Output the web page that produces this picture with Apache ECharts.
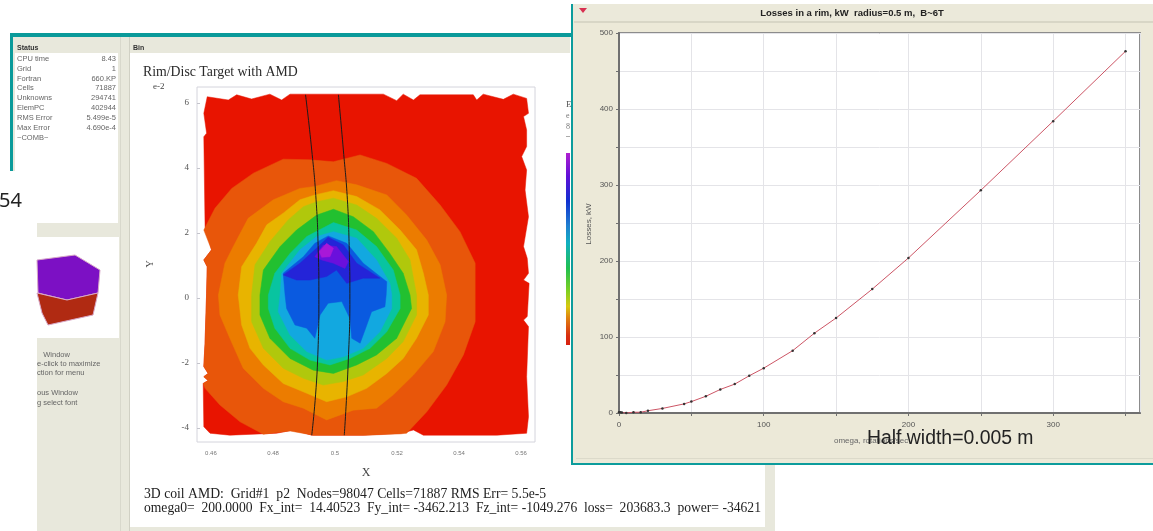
<!DOCTYPE html>
<html><head><meta charset="utf-8">
<style>
html,body{margin:0;padding:0;background:#fff;overflow:hidden}
#main,#top{position:absolute;left:0;top:0;width:1153px;height:531px}
#main{filter:blur(0.5px)}
#top{pointer-events:none}
</style>
<script src="https://cdn.jsdelivr.net/npm/echarts@6/dist/echarts.min.js"></script>
</head><body>
<div id="main"></div><div id="top"></div>
<script>
// ---- Losses curve ----
const omegaValues=[0,1,2,5,10,15,20,30,45,50,60,70,80,90,100,120,135,150,175,200,250,300,350];
const lossValues=[1,1,0.5,0,1,1,3,6,12,15,22,31,38,49,59,82,105,125,163,204,293,384,476];
const lossTicks=[0,100,200,300,400,500];
const omegaTicks=[0,100,200,300];
// ---- Contour plot, x in m, y in 1e-2 m ----
const xTickValues=[0.46,0.48,0.5,0.52,0.54,0.56];
const yTickValues=[-4,-2,0,2,4,6];
const fieldEdge=[[.4588,6.19],[.4656,6.09],[.4683,6.25],[.4731,6.12],[.4790,6.27],[.4828,6.09],[.4855,6.27],[.5156,6.27],[.5199,6.07],[.5220,6.27],[.5253,6.09],[.5274,6.25],[.5446,6.25],[.5457,6.09],[.5478,6.27],[.5543,6.11],[.5575,6.27],[.5618,6.14],[.5624,5.68],[.5608,5.58],[.5618,5.17],[.5618,4.66],[.5602,4.35],[.5618,3.94],[.5613,3.32],[.5624,2.50],[.5608,1.58],[.5620,1.22],[.5624,.76],[.5608,.55],[.5626,.45],[.5620,-.57],[.5608,-.68],[.5624,-.88],[.5618,-2.42],[.5624,-3.65],[.5618,-4.16],[.5522,-4.22],[.5285,-4.22],[.5253,-4.06],[.5215,-4.16],[.5091,-4.22],[.4925,-4.22],[.4866,-4.06],[.4812,-4.16],[.4661,-4.22],[.4597,-4.16],[.4577,-3.96],[.4575,-2.63],[.4591,-2.54],[.4577,-2.42],[.4591,-2.32],[.4577,-2.11],[.4581,-1.39],[.4586,.14],[.4588,.96],[.4577,1.17],[.4602,1.48],[.4581,2.19],[.4577,4.96],[.4586,5.07],[.4577,5.68]];
const band1=[[.4577,2.09],[.4613,2.76],[.4667,3.37],[.4737,3.84],[.4833,4.27],[.4919,4.25],[.4995,4.19],[.5081,4.40],[.5167,4.14],[.5263,3.68],[.5339,2.86],[.5403,2.04],[.5452,1.07],[.5452,.09],[.5452,-.73],[.5414,-1.75],[.5360,-2.68],[.5296,-3.50],[.5231,-4.16],[.5210,-4.18],[.5102,-4.22],[.4930,-4.22],[.4855,-4.09],[.4769,-4.19],[.4694,-3.81],[.4629,-3.29],[.4581,-2.78],[.4575,-2.63],[.4591,-2.54],[.4577,-2.42],[.4591,-2.32],[.4577,-2.11],[.4581,-1.39],[.4586,.14],[.4588,.96],[.4577,1.17],[.4602,1.48]];
const band2=[[.4624,.09],[.4645,1.07],[.4672,1.58],[.4720,2.45],[.4801,3.02],[.4887,3.37],[.4935,3.43],[.5005,3.61],[.5070,3.48],[.5167,3.17],[.5231,2.55],[.5296,1.78],[.5339,1.02],[.5360,.09],[.5355,-.73],[.5317,-1.65],[.5253,-2.37],[.5188,-2.98],[.5134,-3.39],[.5059,-3.45],[.4973,-3.75],[.4898,-3.39],[.4833,-3.19],[.4769,-2.78],[.4704,-2.16],[.4661,-1.24],[.4629,-.52]];
const band3=[[.4688,.09],[.4699,.96],[.4747,1.68],[.4780,2.25],[.4833,2.61],[.4887,3.02],[.4935,3.17],[.4995,3.30],[.5070,3.12],[.5145,2.71],[.5210,2.09],[.5263,1.48],[.5285,.76],[.5301,.09],[.5301,-.52],[.5263,-1.24],[.5220,-1.86],[.5167,-2.32],[.5102,-2.78],[.5038,-3.04],[.4973,-3.19],[.4909,-2.93],[.4833,-2.63],[.4769,-2.06],[.4726,-1.55],[.4699,-.83]];
const band4=[[.4731,.09],[.4742,1.02],[.4790,1.73],[.4849,2.40],[.4898,2.81],[.4941,2.96],[.4995,3.07],[.5070,2.86],[.5134,2.45],[.5199,1.84],[.5242,1.17],[.5263,.09],[.5263,-.52],[.5220,-1.34],[.5167,-1.86],[.5091,-2.37],[.5027,-2.57],[.4962,-2.68],[.4898,-2.47],[.4833,-2.16],[.4769,-1.55],[.4731,-.73]];
const band5=[[.4758,.09],[.4769,.86],[.4823,1.58],[.4876,2.09],[.4941,2.55],[.4995,2.73],[.5059,2.50],[.5124,2.04],[.5177,1.37],[.5220,.76],[.5242,.09],[.5247,-.32],[.5199,-1.24],[.5134,-1.75],[.5070,-2.06],[.4995,-2.32],[.4930,-2.22],[.4855,-1.86],[.4790,-1.24],[.4758,-.52]];
const band6=[[.4785,.09],[.4806,.76],[.4855,1.37],[.4909,1.89],[.4995,2.32],[.5070,2.09],[.5134,1.58],[.5188,.86],[.5210,.09],[.5210,-.32],[.5167,-1.04],[.5113,-1.55],[.5048,-1.86],[.4984,-2.06],[.4919,-1.91],[.4855,-1.55],[.4806,-.93],[.4785,-.32]];
const band7=[[.4823,.09],[.4828,.76],[.4887,1.48],[.4941,1.89],[.4995,2.04],[.5070,1.84],[.5134,1.17],[.5177,.45],[.5183,.09],[.5183,-.32],[.5145,-1.04],[.5091,-1.55],[.5027,-1.81],[.4973,-1.91],[.4909,-1.65],[.4855,-1.14],[.4817,-.42]];
const band8=[[.4833,.76],[.4898,1.27],[.4935,1.68],[.4978,1.91],[.5038,1.68],[.5091,1.07],[.5167,.50],[.5165,.09],[.5161,-.27],[.5118,-.42],[.5097,-.98],[.5081,-1.39],[.5054,-1.24],[.5048,-.63],[.5022,-.11],[.4978,-.16],[.4952,-.52],[.4935,-1.24],[.4909,-.93],[.4871,-.83],[.4844,-.32],[.4839,.09]];
const band9=[[.4833,.71],[.4887,1.07],[.4935,1.48],[.4978,1.87],[.5027,1.63],[.5070,1.07],[.5145,.61],[.5091,.61],[.5038,.45],[.5005,.86],[.4973,.66],[.4919,.55],[.4876,.55]];
const band10=[[.4935,1.27],[.4962,1.63],[.5005,1.58],[.5043,1.12],[.5032,.91],[.4995,1.07],[.4957,1.17]];
const band11=[[.4949,1.43],[.4973,1.68],[.4995,1.53],[.4984,1.27],[.4957,1.25]];
const contourBands=[fieldEdge,band1,band2,band3,band4,band5,band6,band7,band8,band9,band10,band11];
const bandColors=['#e81400','#e8560a','#ec7c00','#e8b400','#b0c80c','#22c030','#08c4a0','#12a8e0','#0a5ae0','#2424d8','#6a10dc','#a818d8'];
const rimLeft=[[.4905,6.25],[.4925,4.55],[.4939,3.02],[.4946,1.48],[.4948,.14],[.4944,-1.91],[.4925,-4.22]];
const rimRight=[[.5011,6.25],[.5027,4.55],[.5040,3.02],[.5046,1.48],[.5048,.14],[.5043,-1.91],[.5030,-4.22]];
// ---- Thumbnail cube ----
const cubeTop=[[0,23],[38,18],[63,33],[61,56],[30,63],[1,56]];
const cubeSide=[[0,56],[30,63],[61,56],[56,78],[11,88],[5,76]];
const cubeFaces=[cubeTop,cubeSide];
const cubeColors=['#7c10c4','#b02a12'];
// ---- Status panel ----
const statusLabels=['CPU time','Grid','Fortran','Cells','Unknowns','ElemPC','RMS Error','Max Error','~COMB~'];
const statusValues=['8.43','1','660.KP','71887','294741','402944','5.499e-5','4.690e-4',''];
const statusRows=[59,69,79,88,98,108,118,128,138];

const R=(x,y,w,h,fill,z)=>({type:'rect',silent:true,z:z===undefined?-10:z,shape:{x,y,width:w,height:h},style:{fill}});
const T=(x,y,text,font,fill,align,rot)=>({type:'text',silent:true,z:20,x,y,rotation:rot||0,style:{x:0,y:0,text,font,fill,textAlign:align||'left',textVerticalAlign:'middle'}});
const polyRender=(sets,cols,stroke)=>(p,api)=>({type:'polygon',shape:{points:sets[p.dataIndex].map(q=>api.coord(q))},style:{fill:cols[p.dataIndex],stroke:stroke||cols[p.dataIndex],lineWidth:stroke?1:0.5}});

const sans='"Liberation Sans"', serif='"Liberation Serif"';
const chrome=[
 R(10,33,561,4,'#0a9a9a'),R(10,33,3,138,'#0a9a9a'),
 R(13,37,557,134,'#e8e8dc'),R(37,171,738,360,'#e8e8dc'),
 R(15,53,103,118,'#ffffff'),R(37,171,81,52,'#ffffff'),
 R(37,237,82,101,'#ffffff'),
 R(130,53,635,474,'#ffffff'),
 R(120,37,1,494,'#d8d8cc'),R(129,37,1,494,'#d0d0c4'),
 // right window
 R(571,4,582,461,'#0c9c9c',1),R(573,4,580,459,'#ece9d8',1),
 R(574,4,579,18,'#ebe9da',1),R(574,21,579,2,'#d8d6c6',1),R(576,458,577,1,'#dcdaca',1),
 {type:'polygon',silent:true,z:2,shape:{points:[[579,8],[587,8],[583,13]]},style:{fill:'#d83050'}},
 // colour scale
 {type:'rect',silent:true,z:1,shape:{x:566,y:153,width:4,height:192},style:{fill:{type:'linear',x:0,y:0,x2:0,y2:1,colorStops:[
   {offset:0,color:'#b020d0'},{offset:.12,color:'#6010d8'},{offset:.25,color:'#1030d0'},{offset:.38,color:'#2080d0'},{offset:.47,color:'#10b0c0'},{offset:.6,color:'#20c050'},{offset:.72,color:'#80d020'},{offset:.8,color:'#d8c810'},{offset:.86,color:'#e08010'},{offset:.95,color:'#d83010'},{offset:1,color:'#d82010'}]}}},
 T(566,105,'E','9px '+serif,'#555'),T(566,116,'e','8px '+serif,'#777'),T(566,127,'8','8px '+serif,'#777'),
 R(566,136,4,1,'#aaa',1),
 // headers
 T(17,48,'Status','bold 7px '+sans,'#333'),T(133,48,'Bin','bold 7px '+sans,'#333'),
 T(143,72,'Rim/Disc Target with AMD','13.8px '+serif,'#2a2a2a'),
 T(153,87,'e-2','9px '+serif,'#444'),
 T(150,264,'Y','10px '+serif,'#444','center',Math.PI/2),
 T(366,473,'X','12px '+serif,'#444','center'),
 T(144,494,'3D coil AMD:  Grid#1  p2  Nodes=98047 Cells=71887 RMS Err= 5.5e-5','13.7px '+serif,'#222'),
 T(144,508,'omega0=  200.0000  Fx_int=  14.40523  Fy_int= -3462.213  Fz_int= -1049.276  loss=  203683.3  power= -34621','13.6px '+serif,'#222'),
 T(37,355,'   Window','7.5px '+sans,'#666'),T(37,364,'e-click to maximize','7.5px '+sans,'#666'),T(37,373,'ction for menu','7.5px '+sans,'#666'),
 T(37,393,'ous Window','7.5px '+sans,'#666'),T(37,403,'g select font','7.5px '+sans,'#666'),
 T(852,13,'Losses in a rim, kW  radius=0.5 m,  B~6T','bold 9.5px '+sans,'#222','center'),
 T(589,224,'Losses, kW','8px '+sans,'#555','center',Math.PI/2),
 T(834,441,'omega, rotations/sec','8px '+sans,'#666'),
].concat(statusLabels.map((s,i)=>T(17,statusRows[i],s,'7.5px '+sans,'#666')))
 .concat(statusValues.map((s,i)=>T(116,statusRows[i],s,'7.5px '+sans,'#666','right')));

const labelSmall={fontSize:8,color:'#555',fontFamily:'Liberation Sans'};
const chart=echarts.init(document.getElementById('main'),null,{renderer:'canvas'});
chart.setOption({
 animation:false,
 graphic:{elements:chrome},
 grid:[
  {left:619,right:13,top:33,height:380,show:true,backgroundColor:'#fff',borderColor:'#8c8c8c',borderWidth:2,z:3},
  {left:197,width:338,top:87,height:355,show:true,backgroundColor:'#fff',borderColor:'#d4d4dc',borderWidth:1},
  {left:37,width:83,top:237,height:101}
 ],
 xAxis:[
  {gridIndex:0,type:'value',min:0,max:360,interval:50,z:4,
   axisLine:{show:true,lineStyle:{color:'#707070',width:2}},
   axisTick:{show:true,length:3,lineStyle:{color:'#707070'}},
   splitLine:{show:true,lineStyle:{color:'#e4e4e8',width:1}},
   axisLabel:Object.assign({margin:8,showMaxLabel:false,formatter:v=>omegaTicks.includes(v)?String(v):''},labelSmall)},
  {gridIndex:1,type:'value',min:0.4555,max:0.5645,
   axisLine:{show:false},splitLine:{show:false},
   axisTick:{show:true,inside:true,length:3,lineStyle:{color:'#c4c4cc'},customValues:xTickValues},
   axisLabel:{show:true,margin:8,fontSize:6,color:'#777',fontFamily:'Liberation Sans',customValues:xTickValues,formatter:v=>String(+v.toFixed(2))}},
  {gridIndex:2,type:'value',min:0,max:83,show:false}
 ],
 yAxis:[
  {gridIndex:0,type:'value',min:0,max:500,interval:50,z:4,
   axisLine:{show:true,lineStyle:{color:'#707070',width:2}},
   axisTick:{show:true,length:3,lineStyle:{color:'#707070'}},
   splitLine:{show:true,lineStyle:{color:'#e4e4e8',width:1}},
   axisLabel:Object.assign({margin:6,formatter:v=>lossTicks.includes(v)?String(v):''},labelSmall)},
  {gridIndex:1,type:'value',min:-4.43,max:6.49,
   axisLine:{show:false},splitLine:{show:false},
   axisTick:{show:true,inside:true,length:3,lineStyle:{color:'#c4c4cc'},customValues:yTickValues},
   axisLabel:{show:true,margin:8,fontSize:9,color:'#555',fontFamily:'Liberation Serif',customValues:yTickValues}},
  {gridIndex:2,type:'value',min:0,max:101,inverse:true,show:false}
 ],
 series:[
  {type:'custom',xAxisIndex:1,yAxisIndex:1,z:2,clip:false,silent:true,
   data:contourBands.map((b,i)=>[b[0][0],b[0][1],i]),encode:{x:0,y:1},
   renderItem:polyRender(contourBands,bandColors)},
  {type:'line',xAxisIndex:1,yAxisIndex:1,z:3,data:rimLeft,smooth:true,showSymbol:false,silent:true,lineStyle:{color:'#1c1c1c',width:1}},
  {type:'line',xAxisIndex:1,yAxisIndex:1,z:3,data:rimRight,smooth:true,showSymbol:false,silent:true,lineStyle:{color:'#1c1c1c',width:1}},
  {type:'custom',xAxisIndex:2,yAxisIndex:2,z:2,silent:true,
   data:cubeFaces.map((f,i)=>[f[0][0],f[0][1],i]),encode:{x:0,y:1},
   renderItem:polyRender(cubeFaces,cubeColors,'#d8a8c8')},
  {type:'line',xAxisIndex:0,yAxisIndex:0,z:5,silent:true,
   data:omegaValues.map((w,i)=>[w,lossValues[i]]),
   symbol:'circle',symbolSize:2.5,showSymbol:true,showAllSymbol:true,
   itemStyle:{color:'#333'},lineStyle:{color:'#cc5565',width:1}}
 ]
});
const over=echarts.init(document.getElementById('top'),null,{renderer:'canvas'});
over.setOption({animation:false,graphic:{elements:[
 {type:'text',silent:true,x:-1,y:201,style:{x:0,y:0,text:'54',font:'20px "Noto Sans"',fill:'#222',textVerticalAlign:'middle'}},
 {type:'text',silent:true,x:867,y:439,style:{x:0,y:0,text:'Half width=0.005 m',font:'19.4px "Liberation Sans"',fill:'#222',textVerticalAlign:'middle'}}
]}});
</script>
</body></html>
